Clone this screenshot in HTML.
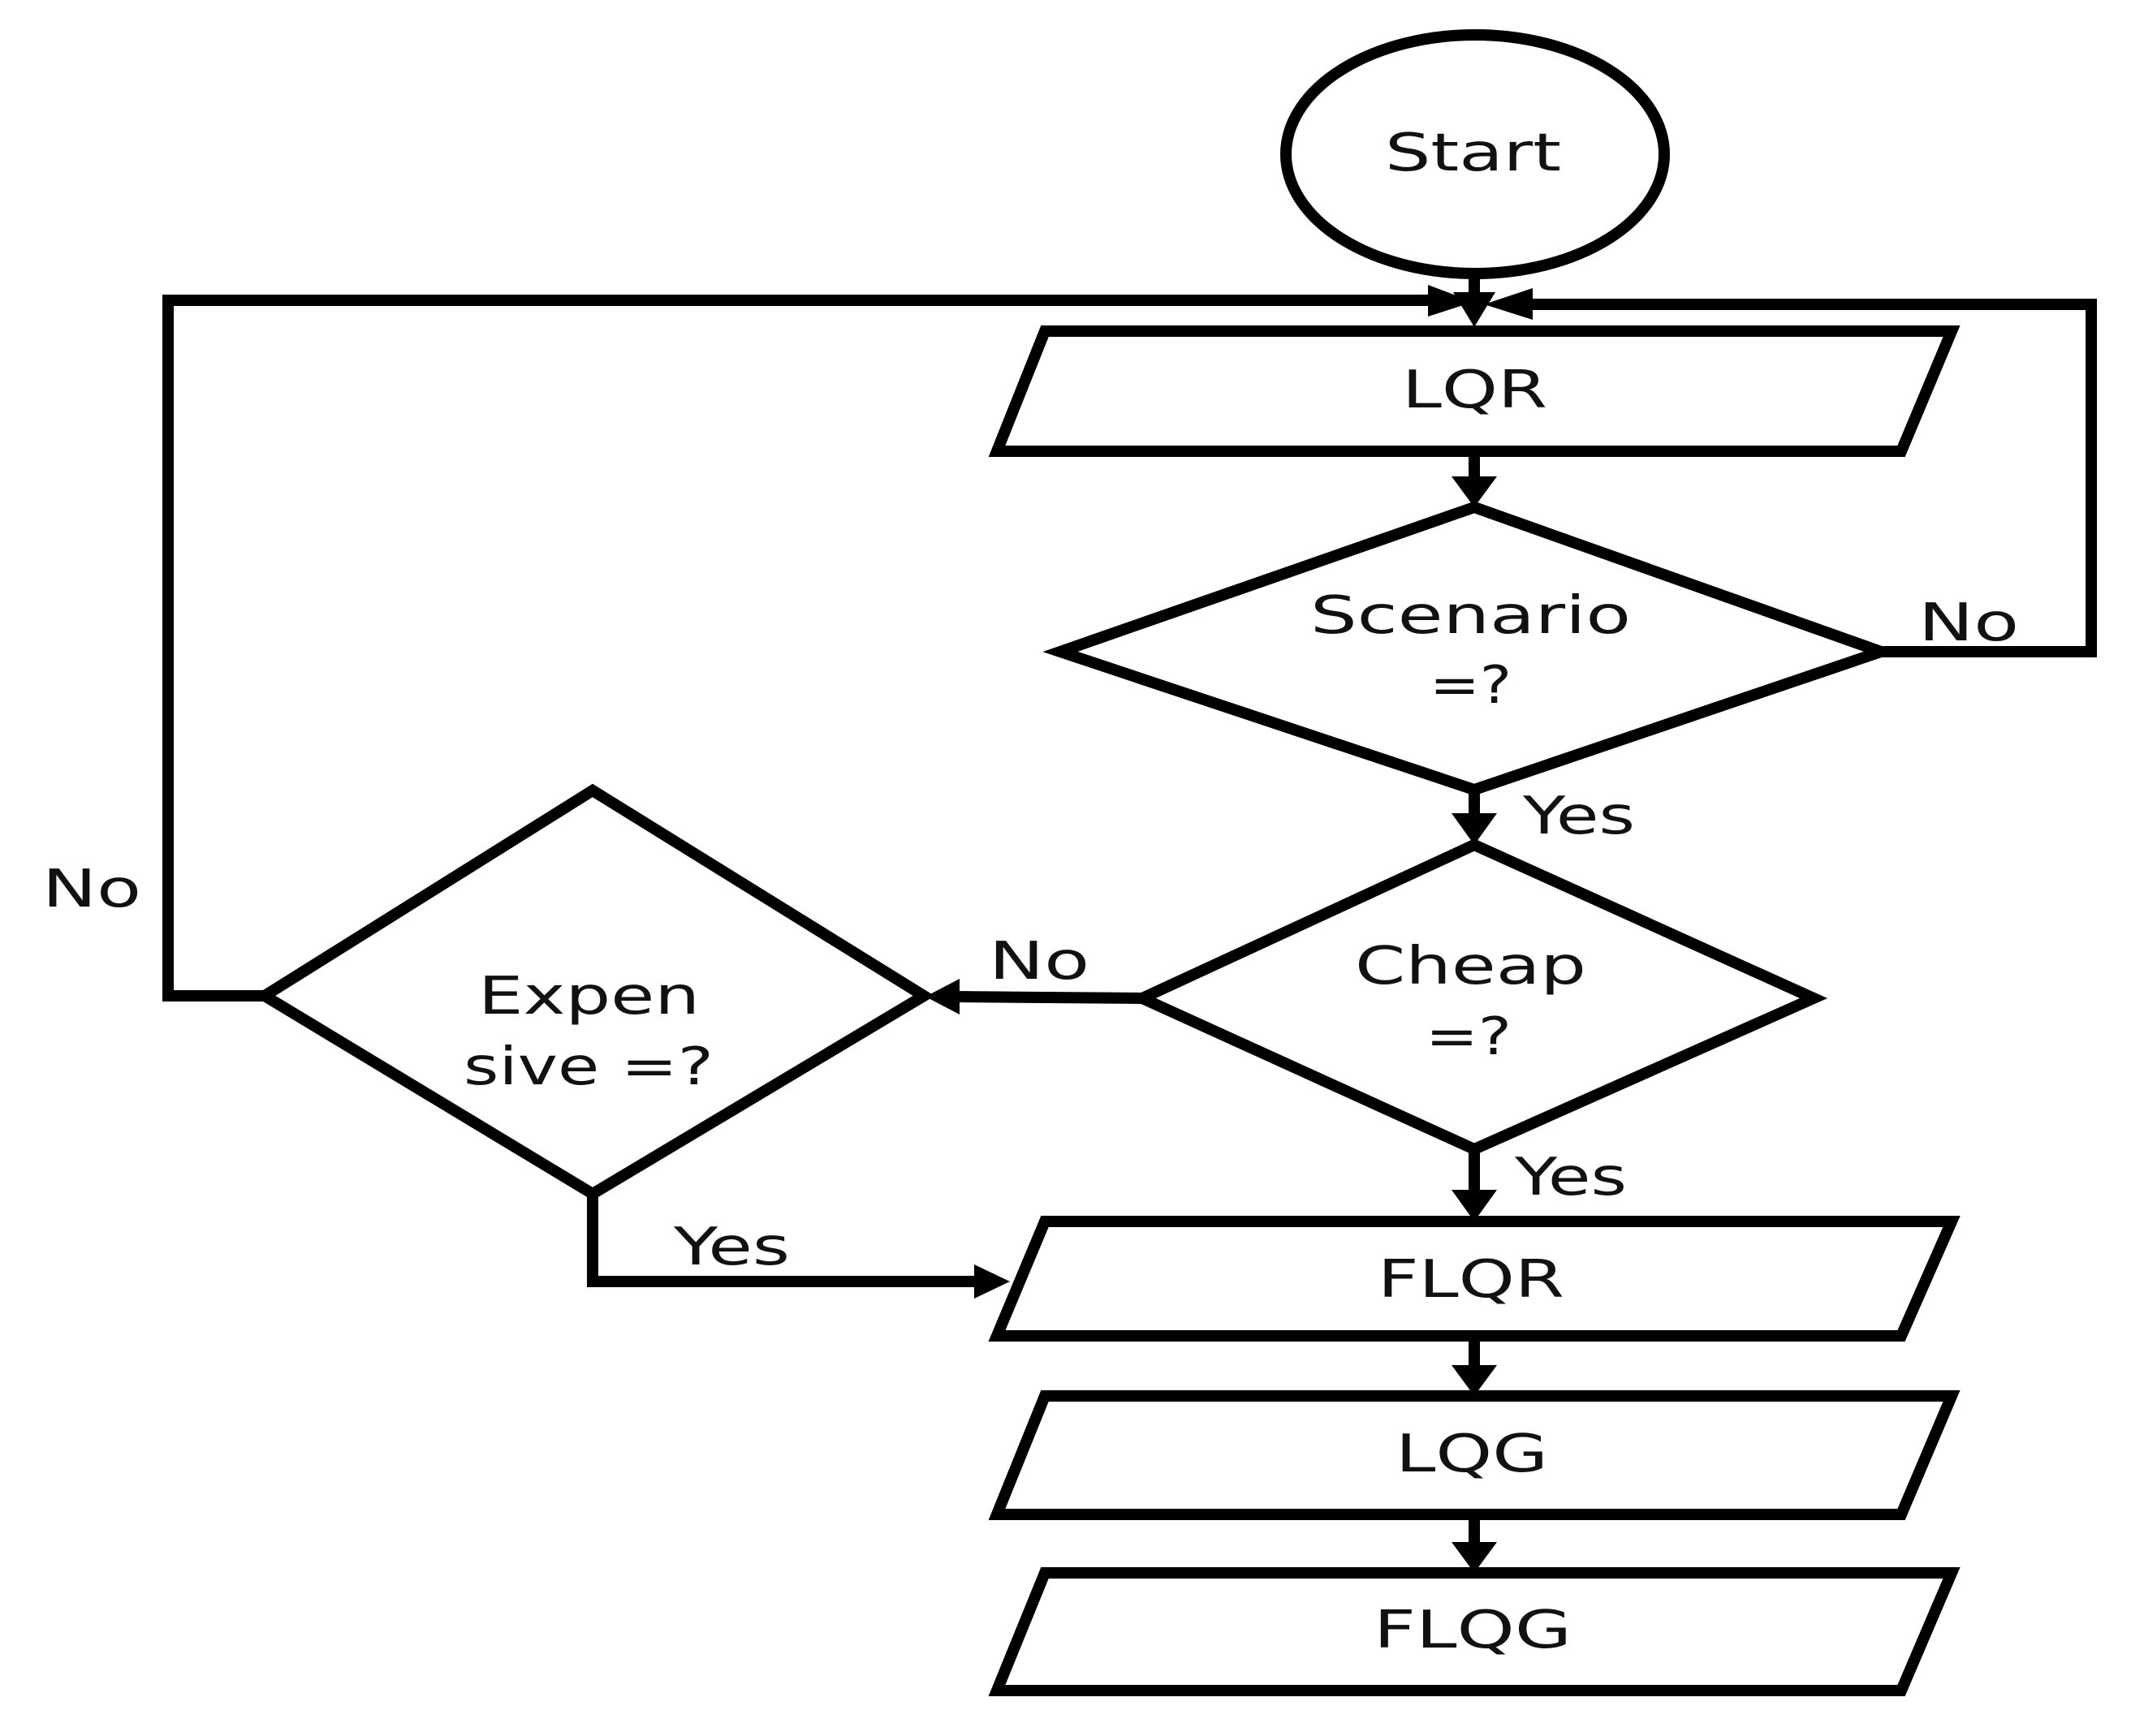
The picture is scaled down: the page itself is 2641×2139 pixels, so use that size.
<!DOCTYPE html>
<html><head><meta charset="utf-8"><style>
html,body{margin:0;padding:0;background:#fff}
svg{display:block}
text{font-family:"DejaVu Sans","Liberation Sans",sans-serif;font-size:64px;fill:#111}
</style></head><body>
<svg width="2641" height="2139" viewBox="0 0 2641 2139" xmlns="http://www.w3.org/2000/svg">
<g fill="none" stroke="#000" stroke-width="14" stroke-linejoin="miter">
<ellipse cx="1817" cy="190" rx="233" ry="147"/>
<polygon points="1287,408 2404,408 2342,556 1228,556"/>
<polygon points="1816,625 2317,803 1816,973 1306,803"/>
<polygon points="1816,1041 2234,1230 1816,1416 1407,1230"/>
<polygon points="730,974 1138,1227 730,1471 326,1227"/>
<polygon points="1287,1505 2404,1505 2342,1646 1228,1646"/>
<polygon points="1287,1720 2404,1720 2342,1866 1228,1866"/>
<polygon points="1287,1938 2404,1938 2342,2083 1228,2083"/>
<line x1="1816" y1="337" x2="1816" y2="370"/>
<polyline points="326,1227 207,1227 207,370 1765,370"/>
<polyline points="2317,803 2576,803 2576,375 1885,375"/>
<line x1="1816" y1="556" x2="1816" y2="592"/>
<line x1="1816" y1="973" x2="1816" y2="1005"/>
<line x1="1407" y1="1230" x2="1175" y2="1228"/>
<line x1="1816" y1="1416" x2="1816" y2="1470"/>
<polyline points="730,1471 730,1579 1205,1579"/>
<line x1="1816" y1="1646" x2="1816" y2="1685"/>
<line x1="1816" y1="1866" x2="1816" y2="1903"/>
</g>
<g fill="#000">
<polygon points="1790,360 1842,360 1816,403"/>
<polygon points="1759,351 1759,390 1815,372"/>
<polygon points="1888,355 1888,394 1828,375"/>
<polygon points="1788,587 1844,587 1816,625"/>
<polygon points="1788,1002 1844,1002 1816,1041"/>
<polygon points="1182,1206 1182,1250 1140,1228"/>
<polygon points="1788,1466 1844,1466 1816,1505"/>
<polygon points="1200,1558 1200,1600 1244,1579"/>
<polygon points="1788,1682 1844,1682 1816,1720"/>
<polygon points="1788,1900 1844,1900 1816,1938"/>
</g>
<text x="1706" y="210" textLength="217" lengthAdjust="spacingAndGlyphs">Start</text>
<text x="1727" y="502" textLength="179" lengthAdjust="spacingAndGlyphs">LQR</text>
<text x="1614" y="780" textLength="395" lengthAdjust="spacingAndGlyphs">Scenario</text>
<text x="1761" y="866" textLength="101" lengthAdjust="spacingAndGlyphs">=?</text>
<text x="2363" y="789" textLength="124" lengthAdjust="spacingAndGlyphs">No</text>
<text x="1876" y="1027" textLength="138" lengthAdjust="spacingAndGlyphs">Yes</text>
<text x="1669" y="1212" textLength="285" lengthAdjust="spacingAndGlyphs">Cheap</text>
<text x="1756" y="1299" textLength="106" lengthAdjust="spacingAndGlyphs">=?</text>
<text x="1218" y="1206" textLength="124" lengthAdjust="spacingAndGlyphs">No</text>
<text x="1866" y="1472" textLength="138" lengthAdjust="spacingAndGlyphs">Yes</text>
<text x="589" y="1249" textLength="273" lengthAdjust="spacingAndGlyphs">Expen</text>
<text x="571" y="1336" textLength="308" lengthAdjust="spacingAndGlyphs">sive =?</text>
<text x="52" y="1117" textLength="122" lengthAdjust="spacingAndGlyphs">No</text>
<text x="830" y="1558" textLength="143" lengthAdjust="spacingAndGlyphs">Yes</text>
<text x="1697" y="1598" textLength="230" lengthAdjust="spacingAndGlyphs">FLQR</text>
<text x="1719" y="1813" textLength="188" lengthAdjust="spacingAndGlyphs">LQG</text>
<text x="1692" y="2030" textLength="244" lengthAdjust="spacingAndGlyphs">FLQG</text>
</svg>
</body></html>
